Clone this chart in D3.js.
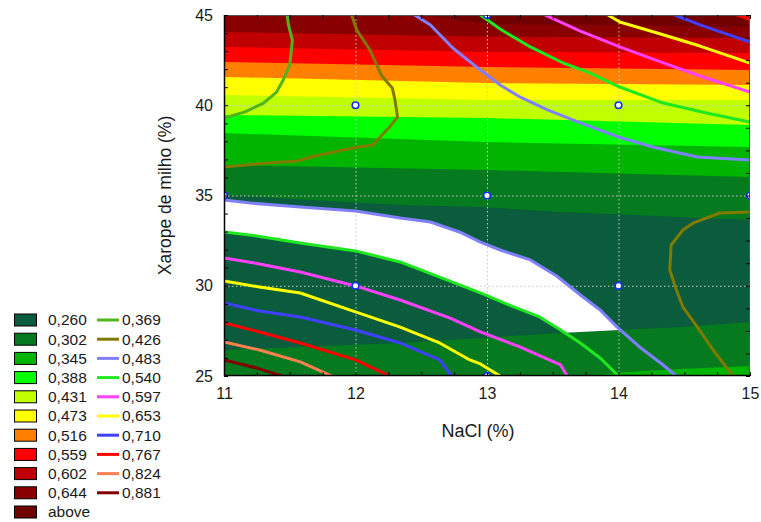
<!DOCTYPE html>
<html>
<head>
<meta charset="utf-8">
<script src="https://cdn.jsdelivr.net/npm/d3@7"></script>
<style>
  body { margin: 0; background: #fff; }
  text { font-family: "Liberation Sans", Arial, sans-serif; fill: #1a1a1a; }
</style>
</head>
<body>
<svg id="chart" width="761" height="522"></svg>
<script>
// ---- axis ticks ----
const xTicks = [11, 12, 13, 14, 15];
const yTicks = [25, 30, 35, 40, 45];
const xTitle = "NaCl (%)";
const yTitle = "Xarope de milho (%)";

// ---- filled response levels (legend column 1) ----
const fillLabels = ["0,260", "0,302", "0,345", "0,388", "0,431", "0,473", "0,516", "0,559", "0,602", "0,644", "above"];
const fillColors = ["#0a5c3c", "#057a1f", "#00b400", "#00ff00", "#c0ff00", "#ffff00", "#ff8000", "#ff0000", "#c00000", "#880000", "#700000"];

// ---- contour line levels (legend column 2) ----
const lineLabels = ["0,369", "0,426", "0,483", "0,540", "0,597", "0,653", "0,710", "0,767", "0,824", "0,881"];
const lineColors = ["#50b41e", "#807a00", "#8080ff", "#20e820", "#ff40ff", "#ffff00", "#4040ff", "#ff0000", "#ff8050", "#800000"];

// ---- experimental design points (NaCl, xarope) ----
const designPoints = [[12, 40], [14, 40], [11, 35], [13, 35], [15, 35], [12, 30], [14, 30], [13, 25], [13, 45]];

// ---- boundaries between filled bands, [NaCl, xarope] ----
const edgeAbove = [[11, 45], [12.5, 45], [13, 44.5], [14, 44.45], [15, 44.34]];
const edge0644 = [[11, 44.06], [13, 43.8], [15, 43.73]];
const edge0602 = [[11, 43.23], [13, 42.95], [15, 42.89]];
const edge0559 = [[11, 42.40], [13, 42.12], [15, 41.95]];
const edge0516 = [[11, 41.57], [13, 41.23], [15, 41.12]];
const edge0473 = [[11, 40.57], [13, 40.29], [15, 40.29]];
const edge0431 = [[11, 39.46], [13, 39.29], [15, 38.91]];
const edge0388 = [[11, 38.46], [13, 37.96], [15, 37.69]];
const edge0345 = [[11, 36.69], [13, 36.41], [15, 36.02]];
const edge0260Top = [[11, 35.03], [12.34, 34.47], [12.95, 34.36], [13.56, 34.09], [14.47, 33.81], [15, 33.64]];
const edge0260Bottom = [[11, 26.44], [11.58, 26.61], [12.34, 26.83], [12.95, 27.11], [13.56, 27.38], [14.01, 27.55], [14.47, 27.71], [15, 27.99]];
const edge0345Bottom = [[13.8, 25], [14, 25.2], [14.5, 25.4], [15, 25.55]];

// ---- contour lines of the second response, [NaCl, xarope] ----
const line0369 = [[11.48, 45], [11.49, 44.45], [11.52, 43.61], [11.50, 42.23], [11.45, 41.40], [11.40, 40.73], [11.30, 40.12], [11.16, 39.63], [11, 39.29]];
const line0426a = [[11.97, 45], [12.01, 44.17], [12.11, 43.06], [12.20, 41.62], [12.28, 40.96], [12.30, 40.29], [12.32, 39.35], [12.26, 38.80], [12.13, 37.80], [11.98, 37.63], [11.69, 37.19], [11.56, 36.91], [11.33, 36.80], [11, 36.58]];
const line0426b = [[15, 34.09], [14.77, 34.03], [14.57, 33.48], [14.49, 33.09], [14.40, 32.26], [14.39, 30.87], [14.44, 29.76], [14.49, 28.82], [14.60, 27.71], [14.72, 26.44], [14.87, 25]];
const line0483a = [[12.45, 45], [12.57, 44.45], [12.74, 43.17], [12.95, 41.95], [13.10, 41.12], [13.25, 40.46], [13.46, 39.74], [13.71, 39.02], [14.00, 38.24], [14.26, 37.69], [14.60, 37.13], [15, 36.97]];
const line0483b = [[11, 34.75], [11.20, 34.58], [11.58, 34.36], [12, 34.14], [12.34, 33.75], [12.57, 33.53], [12.79, 32.98], [12.95, 32.42], [13.10, 31.98], [13.33, 31.43], [13.53, 30.54], [13.71, 29.49], [13.86, 28.66], [13.99, 27.71], [14.16, 26.61], [14.32, 25.72], [14.44, 25]];
const line0540a = [[12.95, 45], [13.10, 44.22], [13.33, 43.23], [13.58, 42.34], [13.78, 41.79], [14.01, 41.01], [14.34, 40.12], [14.67, 39.57], [15, 39.07]];
const line0540b = [[11, 32.98], [11.25, 32.76], [11.58, 32.37], [12, 31.93], [12.34, 31.32], [12.64, 30.48], [12.95, 29.60], [13.17, 28.93], [13.40, 28.27], [13.56, 27.55], [13.71, 26.83], [13.86, 26.00], [14, 25]];
const line0597a = [[13.44, 45], [13.71, 44.11], [14.01, 43.23], [14.32, 42.40], [14.62, 41.62], [15, 40.73]];
const line0597b = [[11, 31.54], [11.27, 31.21], [11.58, 30.76], [12, 29.99], [12.34, 29.21], [12.72, 28.21], [12.95, 27.44], [13.25, 26.61], [13.56, 25.61], [13.61, 25]];
const line0653a = [[13.92, 45], [14.01, 44.61], [14.32, 43.95], [14.62, 43.28], [15, 42.34]];
const line0653b = [[11, 30.26], [11.27, 29.93], [11.58, 29.60], [12, 28.55], [12.34, 27.71], [12.64, 26.83], [12.87, 25.89], [12.95, 25.67], [13.10, 25]];
const line0710a = [[14.43, 45], [14.62, 44.45], [15, 43.50]];
const line0710b = [[11, 29.04], [11.27, 28.60], [11.58, 28.27], [12, 27.55], [12.34, 26.83], [12.64, 25.89], [12.73, 25]];
const line0767a = [[14.90, 45], [15, 44.78]];
const line0767b = [[11, 27.94], [11.27, 27.44], [11.58, 26.83], [12, 25.89], [12.26, 25]];
const line0824 = [[11, 26.89], [11.27, 26.44], [11.58, 25.78], [11.82, 25]];
const line0881 = [[11, 25.89], [11.25, 25.44], [11.44, 25]];

// ---- layout ----
const svg = d3.select("#chart");
const plot = { left: 224, right: 750, top: 15, bottom: 376 };
const x = d3.scaleLinear().domain([11, 15]).range([plot.left, plot.right]);
const y = d3.scaleLinear().domain([25, 45]).range([plot.bottom, plot.top]);

svg.append("defs").append("clipPath").attr("id", "plotClip")
  .append("rect")
  .attr("x", plot.left).attr("y", plot.top)
  .attr("width", plot.right - plot.left).attr("height", plot.bottom - plot.top);

const g = svg.append("g").attr("clip-path", "url(#plotClip)");

const line = d3.line().x(d => x(d[0])).y(d => y(d[1]));
const areaUp = d3.area().x(d => x(d[0])).y0(y(45)).y1(d => y(d[1]));
const areaDown = d3.area().x(d => x(d[0])).y0(y(25)).y1(d => y(d[1]));

// base band
g.append("rect")
  .attr("x", x(11)).attr("y", y(45))
  .attr("width", x(15) - x(11)).attr("height", y(25) - y(45))
  .attr("fill", fillColors[1]);

// upper bands painted from the lowest level upward
const upperEdges = [edge0345, edge0388, edge0431, edge0473, edge0516, edge0559, edge0602, edge0644, edgeAbove];
upperEdges.forEach((edge, i) => {
  g.append("path").attr("d", areaUp(edge)).attr("fill", fillColors[i + 2]);
});

// lowest band (closed between its two edges)
const lowBandPath = line(edge0260Top.concat(edge0260Bottom.slice().reverse())) + "Z";
g.append("path").attr("d", lowBandPath).attr("fill", fillColors[0]);

// bottom-right patch of 0,345
g.append("path").attr("d", areaDown(edge0345Bottom)).attr("fill", fillColors[2]);

// white pocket inside the lowest band, between the 0,483 and 0,540 lines
svg.select("defs").append("clipPath").attr("id", "lowBandClip")
  .append("path").attr("d", lowBandPath);
const pocket = line0483b.concat(line0540b.slice().reverse());
g.append("g").attr("clip-path", "url(#lowBandClip)")
  .append("path").attr("d", line(pocket) + "Z").attr("fill", "#ffffff");

// dotted grid
const grid = g.append("g").attr("stroke", "#c8c8c8").attr("stroke-width", 1).attr("stroke-dasharray", "1.5,2.5");
xTicks.slice(1, -1).forEach(v => {
  grid.append("line").attr("x1", x(v) + 0.5).attr("x2", x(v) + 0.5).attr("y1", y(45)).attr("y2", y(25));
});
yTicks.slice(1, -1).forEach(v => {
  grid.append("line").attr("x1", x(11)).attr("x2", x(15)).attr("y1", y(v) + 0.5).attr("y2", y(v) + 0.5);
});

// contour lines
const lineSets = [
  [line0369], [line0426a, line0426b], [line0483a, line0483b], [line0540a, line0540b],
  [line0597a, line0597b], [line0653a, line0653b], [line0710a, line0710b],
  [line0767a, line0767b], [line0824], [line0881]
];
lineSets.forEach((set, i) => {
  set.forEach(pts => {
    g.append("path").attr("d", line(pts))
      .attr("fill", "none").attr("stroke", lineColors[i])
      .attr("stroke-width", 3).attr("stroke-linejoin", "round");
  });
});

// design points
g.selectAll("circle.pt").data(designPoints).join("circle")
  .attr("class", "pt")
  .attr("cx", d => x(d[0])).attr("cy", d => y(d[1])).attr("r", 3.3)
  .attr("fill", "#ffffff").attr("stroke", "#1530ff").attr("stroke-width", 1.6);

// frame
svg.append("rect")
  .attr("x", plot.left + 0.5).attr("y", plot.top + 0.5)
  .attr("width", plot.right - plot.left - 1).attr("height", plot.bottom - plot.top - 1)
  .attr("fill", "none").attr("stroke", "#555").attr("stroke-width", 1);
svg.append("path")
  .attr("d", `M${plot.left + 0.5},${plot.top}V${plot.bottom - 0.5}H${plot.right}`)
  .attr("fill", "none").attr("stroke", "#000").attr("stroke-width", 1.5);

// minor ticks on every side
function minorTicks(axis, transform) {
  const a = svg.append("g").attr("transform", transform).call(axis);
  a.select(".domain").remove();
  a.selectAll("text").remove();
  a.selectAll("line").attr("stroke", "#000");
}
minorTicks(d3.axisBottom(x).tickValues(d3.range(11, 15.001, 0.25)).tickSize(-4), `translate(0,${plot.bottom})`);
minorTicks(d3.axisTop(x).tickValues(d3.range(11, 15.001, 0.25)).tickSize(-4), `translate(0,${plot.top})`);
minorTicks(d3.axisLeft(y).tickValues(d3.range(25, 45.001, 1)).tickSize(-4), `translate(${plot.left},0)`);
minorTicks(d3.axisRight(y).tickValues(d3.range(25, 45.001, 1.25)).tickSize(-4), `translate(${plot.right},0)`);

// labelled axes
const xAxis = svg.append("g").attr("transform", `translate(0,${plot.bottom})`)
  .call(d3.axisBottom(x).tickValues(xTicks).tickSize(0).tickPadding(12).tickFormat(d3.format("d")));
xAxis.select(".domain").remove();
xAxis.selectAll("text").attr("font-size", 16).style("font-family", "'Liberation Sans', Arial, sans-serif").attr("fill", "#1a1a1a");

const yAxis = svg.append("g").attr("transform", `translate(${plot.left},0)`)
  .call(d3.axisLeft(y).tickValues(yTicks).tickSize(0).tickPadding(11).tickFormat(d3.format("d")));
yAxis.select(".domain").remove();
yAxis.selectAll("text").attr("font-size", 16).style("font-family", "'Liberation Sans', Arial, sans-serif").attr("fill", "#1a1a1a");

svg.append("text").attr("x", 478).attr("y", 437)
  .attr("text-anchor", "middle").attr("font-size", 18).text(xTitle);
svg.append("text").attr("transform", `translate(171,${(plot.top + plot.bottom) / 2}) rotate(-90)`)
  .attr("text-anchor", "middle").attr("font-size", 17.5).text(yTitle);

// legend
const rowY = i => 320 + i * 19.2;
const leg = svg.append("g");
fillLabels.forEach((lab, i) => {
  leg.append("rect").attr("x", 14.5).attr("y", rowY(i) - 6).attr("width", 22).attr("height", 12)
    .attr("fill", fillColors[i]).attr("stroke", "#000").attr("stroke-width", 1);
  leg.append("text").attr("x", 48).attr("y", rowY(i)).attr("dy", "0.35em")
    .attr("font-size", 15.5).text(lab);
});
lineLabels.forEach((lab, i) => {
  leg.append("line").attr("x1", 97).attr("x2", 119).attr("y1", rowY(i)).attr("y2", rowY(i))
    .attr("stroke", lineColors[i]).attr("stroke-width", 3);
  leg.append("text").attr("x", 122).attr("y", rowY(i)).attr("dy", "0.35em")
    .attr("font-size", 15.5).text(lab);
});
</script>
</body>
</html>
